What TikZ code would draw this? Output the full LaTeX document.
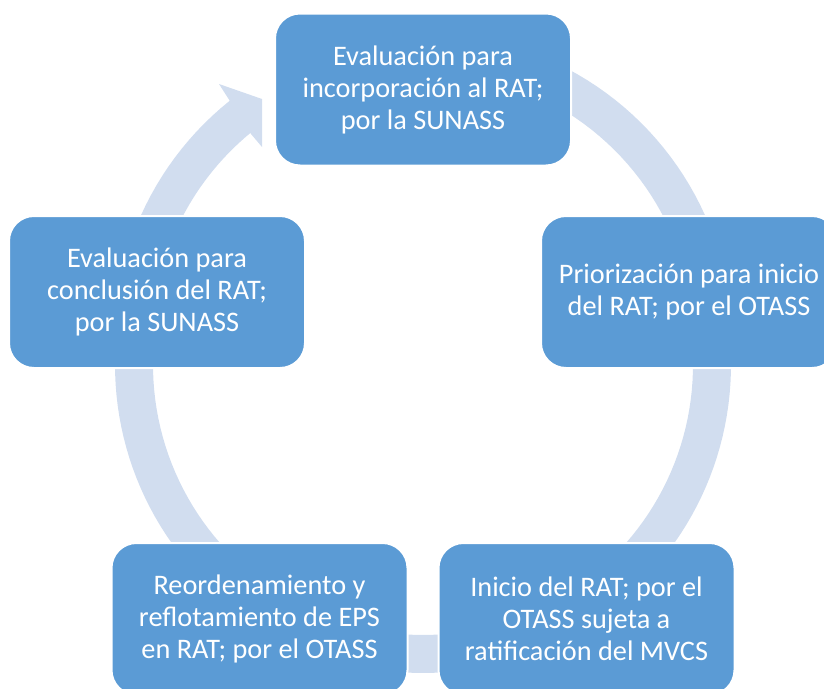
\documentclass[tikz,border=0pt]{standalone}
\usepackage{fontspec}
\setmainfont{Carlito}
\usepackage{xcolor}
\usepackage{tikz}
\usetikzlibrary{positioning,shapes,arrows}
\definecolor{boxblue}{RGB}{91,155,213}
\definecolor{ringblue}{RGB}{209,221,239}
\tikzstyle{stage}=[%
      rectangle, rounded corners=25pt, draw=white, line width=2pt, fill=boxblue,
      text=white, align=center, minimum width=296pt, minimum height=152pt, inner sep=4pt,
      font=\fontsize{28.3}{32}\selectfont
]
\tikzstyle{cyclering}=[%
      draw=ringblue, line width=38pt
]

\begin{document}
\begin{tikzpicture}[x=1pt, y=-1pt,
    ringhead/.style={%
      fill=ringblue, draw=none
    },
]
    \useasboundingbox (0,0) rectangle (824,688);

    % ring behind the boxes
    \draw[cyclering] plot[domain=280:596, samples=160, variable=\t]
        ({423+(289+24*max(0,-sin(\t)))*cos(\t)}, {365+(289+24*max(0,-sin(\t)))*sin(\t)});
    \coordinate (h1) at (219,84);
    \coordinate (h2) at (262,99);
    \coordinate (h3) at (262,147);
    \coordinate (h4) at (251,134);
    \fill[ringhead] (h1) -- (h2) -- (h3) -- (h4) -- cycle;

    \node[stage] (top)   at (423,89.5)  {Evaluación para\\incorporación al RAT;\\por la SUNASS};
    \node[stage] (right) at (689,292)   {Priorización para inicio\\del RAT; por el OTASS};
    \node[stage] (botr)  at (586.5,619) {Inicio del RAT; por el\\OTASS sujeta a\\ratificación del MVCS};
    \node[stage] (botl)  at (259.5,619) {Reordenamiento y\\reflotamiento de EPS\\en RAT; por el OTASS};
    \node[stage] (left)  at (157,292)   {Evaluación para\\conclusión del RAT;\\por la SUNASS};
\end{tikzpicture}
\end{document}
